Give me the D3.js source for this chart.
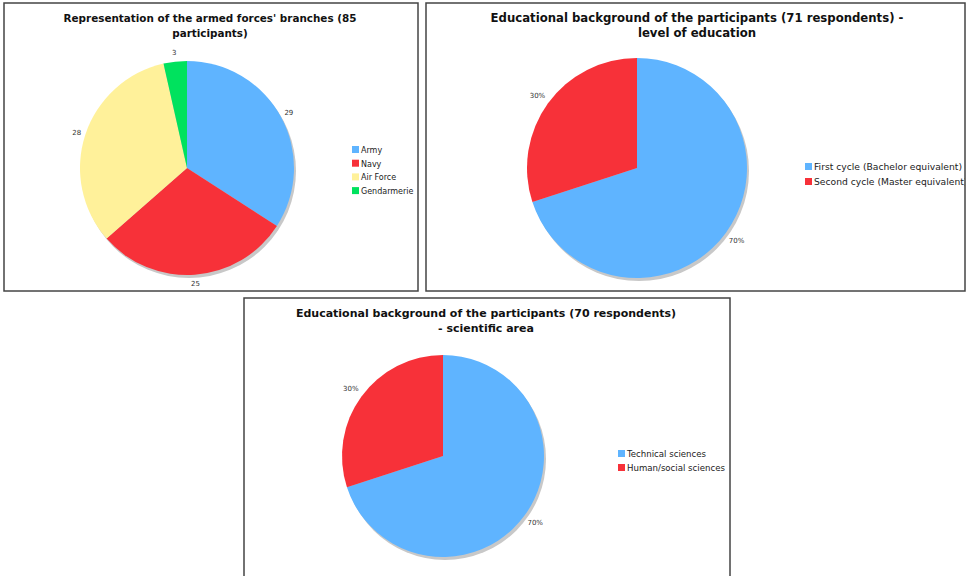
<!DOCTYPE html>
<html>
<head>
<script src="https://d3js.org/d3.v7.min.js"></script>
<style>
  body { margin: 0; background: #fff; }
  svg { display: block; }
  text { font-family: "DejaVu Sans", Verdana, sans-serif; }
</style>
</head>
<body>
<svg id="chart" width="968" height="576"></svg>
<script>
// chart data
const branchLabels = ["Army", "Navy", "Air Force", "Gendarmerie"];
const branchValues = [29, 25, 28, 3];
const levelLabels = ["First cycle (Bachelor equivalent)", "Second cycle (Master equivalent)"];
const levelValues = [70, 30];
const areaLabels = ["Technical sciences", "Human/social sciences"];
const areaValues = [70, 30];
const colors = ["#5fb4ff", "#f73139", "#fff19a", "#00e25e"];

const panels = [
  { box: [4, 3, 414, 288], title: ["Representation of the armed forces' branches (85", "participants)"],
    titleX: 210, titleFont: 10.4, cx: 187, cy: 168, r: 107, labels: branchLabels, values: branchValues, pct: false,
    legendX: 352, legendY: 150, legendStep: 13.7, legendFont: 8 },
  { box: [426, 3, 539, 288], title: ["Educational background of the participants (71 respondents) -", "level of education"],
    titleX: 697, titleFont: 11.7, cx: 637, cy: 168, r: 110, labels: levelLabels, values: levelValues, pct: true,
    legendX: 805, legendY: 167, legendStep: 15, legendFont: 9.2 },
  { box: [244, 298, 486, 290], title: ["Educational background of the participants (70 respondents)", "- scientific area"],
    titleX: 486, titleFont: 11, cx: 443, cy: 456, r: 101, labels: areaLabels, values: areaValues, pct: true,
    legendX: 618, legendY: 454, legendStep: 14, legendFont: 8.6 }
];

const svg = d3.select("#chart");
const defs = svg.append("defs");

panels.forEach((p, i) => {
  const [bx, by, bw, bh] = p.box;
  defs.append("clipPath").attr("id", "clip" + i)
    .append("rect").attr("x", bx).attr("y", by).attr("width", bw).attr("height", bh);

  const g = svg.append("g").attr("clip-path", `url(#clip${i})`);
  g.append("rect").attr("x", bx).attr("y", by).attr("width", bw).attr("height", bh)
    .attr("fill", "#fff");

  // title
  g.selectAll(".title").data(p.title).enter().append("text")
    .attr("x", p.titleX).attr("y", (d, k) => by + 19 + k * 15)
    .attr("text-anchor", "middle").attr("font-size", p.titleFont).attr("font-weight", "bold")
    .attr("fill", "#111").text(d => d);

  const total = d3.sum(p.values);
  const pie = d3.pie().sort(null).value(d => d);
  const arcs = pie(p.values);
  const arc = d3.arc().innerRadius(0).outerRadius(p.r);

  // shadow
  g.append("circle").attr("cx", p.cx + 2).attr("cy", p.cy + 3).attr("r", p.r)
    .attr("fill", "#c8c8c8");

  const pg = g.append("g").attr("transform", `translate(${p.cx},${p.cy})`);
  pg.selectAll("path").data(arcs).enter().append("path")
    .attr("d", arc).attr("fill", (d, k) => colors[k]);

  const labelArc = d3.arc().innerRadius(p.r + (p.pct ? 13 : 9)).outerRadius(p.r + (p.pct ? 13 : 9));
  pg.selectAll(".lbl").data(arcs).enter().append("text")
    .attr("transform", d => `translate(${labelArc.centroid(d)})`)
    .attr("text-anchor", "middle").attr("dy", "0.35em")
    .attr("font-size", 7).attr("fill", "#333")
    .text(d => p.pct ? Math.round(d.value / total * 100) + "%" : d.value);

  // legend
  const items = g.append("g").selectAll(".item").data(p.labels).enter().append("g")
    .attr("transform", (d, k) => `translate(${p.legendX},${p.legendY + k * p.legendStep})`);
  items.append("rect").attr("x", 0).attr("y", -4).attr("width", 7).attr("height", 7)
    .attr("fill", (d, k) => colors[k]);
  items.append("text").attr("x", 9).attr("y", 0).attr("dy", "0.35em")
    .attr("font-size", p.legendFont).attr("fill", "#222").text(d => d);

  // border
  svg.append("rect").attr("x", bx).attr("y", by).attr("width", bw).attr("height", bh)
    .attr("fill", "none").attr("stroke", "#444").attr("stroke-width", 1.5);
});
</script>
</body>
</html>
